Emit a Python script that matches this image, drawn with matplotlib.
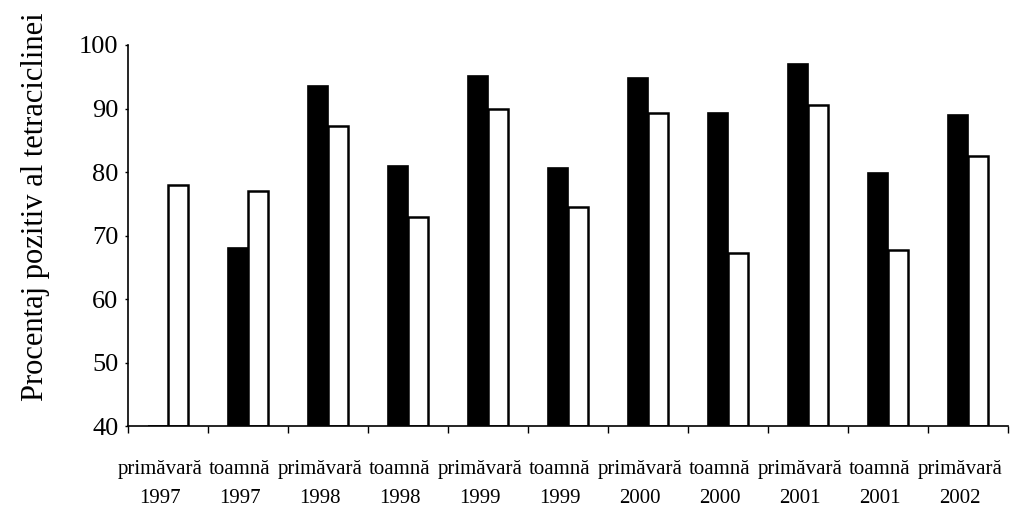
import matplotlib.pyplot as plt
import numpy as np

plt.rcParams['font.family'] = ['Liberation Serif', 'DejaVu Serif']

categories = ['primăvară\n1997', 'toamnă\n1997', 'primăvară\n1998', 'toamnă\n1998',
              'primăvară\n1999', 'toamnă\n1999', 'primăvară\n2000', 'toamnă\n2000',
              'primăvară\n2001', 'toamnă\n2001', 'primăvară\n2002']
black_vals = [40, 68, 93.5, 81, 95.1, 80.6, 94.8, 89.3, 97, 79.8, 89]
white_vals = [78, 77, 87.2, 73, 90, 74.5, 89.3, 67.2, 90.5, 67.7, 82.5]
yticks = [40, 50, 60, 70, 80, 90, 100]

fig = plt.figure(figsize=(10.16, 5.11), dpi=100)
ax = fig.add_axes([0.126, 0.166, 0.866, 0.746])

x = np.arange(len(categories))
w = 0.25
base = 40
ax.bar(x - w / 2, np.array(black_vals) - base, w, bottom=base,
       color='black', edgecolor='black', linewidth=1.2)
ax.bar(x + w / 2, np.array(white_vals) - base, w, bottom=base,
       color='white', edgecolor='black', linewidth=1.8)

ax.set_xlim(-0.5, len(categories) - 0.5)
ax.set_ylim(40, 100)
ax.set_yticks(yticks)
ax.set_yticklabels([str(v) for v in yticks], fontsize=19)
ax.tick_params(axis='y', length=2, width=1, pad=5)

# group boundaries on the baseline
ax.set_xticks(np.arange(len(categories) + 1) - 0.5, minor=True)
ax.set_xticks(x - 0.1)
ax.set_xticklabels(categories, fontsize=15, linespacing=1.75)
ax.tick_params(axis='x', which='major', length=0, pad=24)
ax.tick_params(axis='x', which='minor', length=5, width=1, direction='out')

for s in ['top', 'right']:
    ax.spines[s].set_visible(False)
ax.spines['left'].set_linewidth(1.2)
ax.spines['bottom'].set_linewidth(1.2)

ax.set_ylabel('Procentaj pozitiv al tetraciclinei', fontsize=22)
ax.yaxis.set_label_coords(-0.089, 0.577)

fig.savefig('out.png', dpi=100)
